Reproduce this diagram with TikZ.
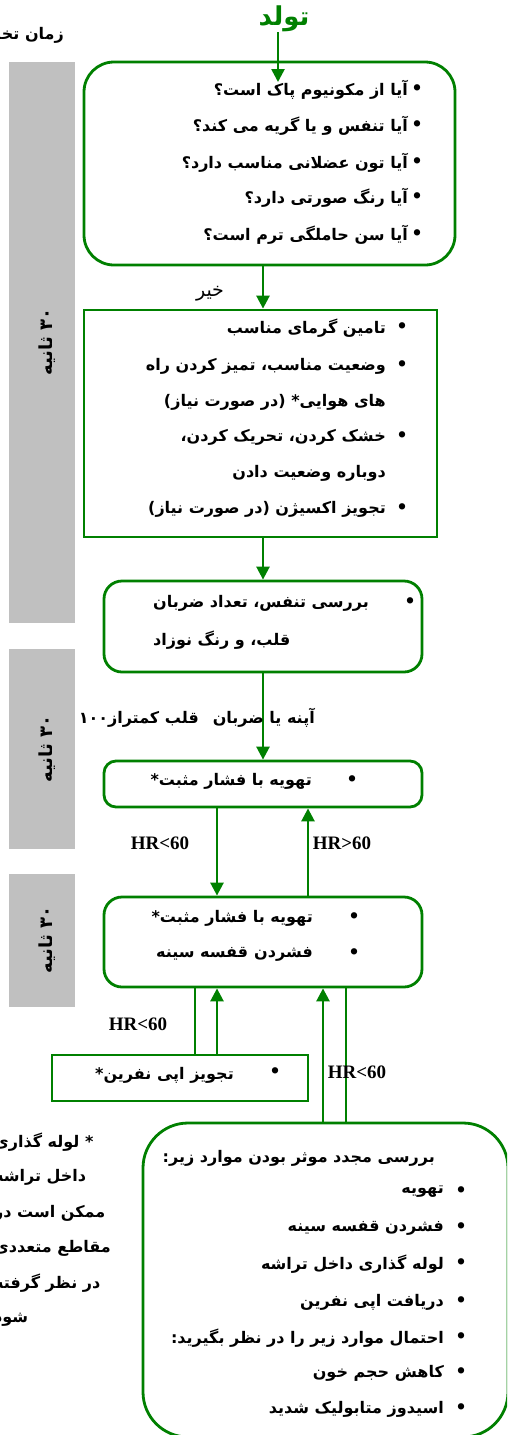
\documentclass[tikz,border=0pt]{standalone}
\usepackage{fontspec}
\usetikzlibrary{arrows.meta}
\TeXXeTstate=1
\setmainfont{Liberation Serif}
\newfontfamily\fa[Script=Arabic]{DejaVu Sans}
\definecolor{gr}{RGB}{0,128,0}
\definecolor{barc}{RGB}{192,192,192}
\newcommand\rl[1]{\beginR #1\endR}
\tikzset{
  boxs/.style={draw=gr, line width=2.8pt},
  arr/.style={draw=gr, line width=2.6pt, -{Triangle[width=13pt,length=13pt]}},
  ln/.style={draw=gr, line width=2.6pt},
  ft/.style={font=\fa\bfseries\fontsize{16}{18}\selectfont, inner sep=0pt},
  ftr/.style={font=\fa\fontsize{19}{21}\selectfont, inner sep=0pt},
  bul/.style={font=\fa\bfseries\fontsize{18}{18}\selectfont, inner sep=0pt},
  hr/.style={font=\bfseries\fontsize{19}{21}\selectfont, inner sep=0pt},
  barlbl/.style={font=\fa\bfseries\fontsize{18}{20}\selectfont, inner sep=0pt, rotate=90},
}
\begin{document}
\begin{tikzpicture}[x=1pt,y=-1pt]
\useasboundingbox (0,0) rectangle (507,1435);
\clip (0,0) rectangle (507,1435);
\fill[white] (0,0) rectangle (507,1435);

% column coordinates
\coordinate (c0) at (278,0);
\coordinate (c1) at (263,0);
\coordinate (cdn) at (217,0);
\coordinate (cup) at (308,0);
\coordinate (cl6) at (195,0);
\coordinate (ca6) at (217,0);
\coordinate (ca7) at (323,0);
\coordinate (cl7) at (346,0);

% gray bars
\fill[barc] (9,62) rectangle (75,623);
\fill[barc] (9,649) rectangle (75,849);
\fill[barc] (9,874) rectangle (75,1007);
\node[barlbl] (g1) at (47,342) {\rl{۳۰ ثانیه}};
\node[barlbl] (g2) at (47,749) {\rl{۳۰ ثانیه}};
\node[barlbl] (g3) at (47,940) {\rl{۳۰ ثانیه}};

% top texts
\node[font=\fa\bfseries\fontsize{26}{28}\selectfont, text=gr, inner sep=0pt] (title) at (284,19) {\rl{تولد}};
\node[ft, anchor=east] (tz) at (64,35) {\rl{زمان تخمینی}};

% box 1
\node[boxs, rounded corners=30pt, minimum width=371pt, minimum height=203pt, inner sep=0pt] (b1) at (269.5,163.5) {};
\coordinate (t1) at (278,82);
\draw[arr] (title.south -| c0) -- (t1);
\foreach \y/\t [count=\i] in {90/آیا از مکونیوم پاک است؟,126/آیا تنفس و یا گریه می کند؟,163/آیا تون عضلانی مناسب دارد؟,198/آیا رنگ صورتی دارد؟,235/آیا سن حاملگی ترم است؟}{
  \node[bul] (p1\i) at (417,\y) {•};
  \node[ft, anchor=east] (q1\i) at (408,\y) {\rl{\t}};
}

% box 2
\node[boxs, minimum width=353pt, minimum height=227pt, inner sep=0pt] (b2) at (260.5,423.5) {};
\draw[arr] (b1.south -| c1) -- (b2.north -| c1);
\node[ftr] (no) at (210,294) {\rl{خیر}};
\foreach \y/\t [count=\i] in {328/تامین گرمای مناسب,366/وضعیت مناسب، تمیز کردن راه,402/های هوایی* (در صورت نیاز),437/خشک کردن، تحریک کردن،,473/دوباره وضعیت دادن,509/تجویز اکسیژن (در صورت نیاز)}{
  \node[ft, anchor=east] (q2\i) at (386,\y) {\rl{\t}};
}
\node[bul] (p21) at (402,328) {•};
\node[bul] (p22) at (402,366) {•};
\node[bul] (p23) at (402,437) {•};
\node[bul] (p24) at (402,509) {•};

% box 3
\node[boxs, rounded corners=18pt, minimum width=318pt, minimum height=91pt, inner sep=0pt] (b3) at (263,626.5) {};
\draw[arr] (b2.south -| c1) -- (b3.north -| c1);
\node[bul] (p31) at (410,603) {•};
\node[ft, anchor=east] (q31) at (369,603) {\rl{بررسی تنفس، تعداد ضربان}};
\path (q31.west) ++(0,37) node[ft, anchor=west] (q32) {\rl{قلب، و رنگ نوزاد}};

% box 4
\node[boxs, rounded corners=12pt, minimum width=318pt, minimum height=46pt, inner sep=0pt] (b4) at (263,784) {};
\draw[arr] (b3.south -| c1) -- (b4.north -| c1);
\node[ft, anchor=east] (lab34) at (315,718) {\rl{آپنه یا ضربان\hspace{14pt}قلب کمتراز۱۰۰}};
\node[bul] (p41) at (352,781) {•};
\node[ft, anchor=east] (q41) at (312,781) {\rl{تهویه با فشار مثبت*}};

% box 5
\node[boxs, rounded corners=18pt, minimum width=318pt, minimum height=90pt, inner sep=0pt] (b5) at (263,942) {};
\draw[arr] (b4.south -| cdn) -- (b5.north -| cdn);
\draw[arr] (b5.north -| cup) -- (b4.south -| cup);
\node[hr] (hr1) at (160,843) {HR<60};
\node[hr] (hr2) at (342,843) {HR>60};
\node[bul] (p51) at (354,918) {•};
\node[bul] (p52) at (354,954) {•};
\node[ft, anchor=east] (q51) at (313,918) {\rl{تهویه با فشار مثبت*}};
\node[ft, anchor=east] (q52) at (313,954) {\rl{فشردن\hspace{6pt}قفسه سینه}};

% box 6
\node[boxs, minimum width=256pt, minimum height=46pt, inner sep=0pt] (b6) at (180,1078) {};
\draw[ln] (b5.south -| cl6) -- (b6.north -| cl6);
\draw[arr] (b6.north -| ca6) -- (b5.south -| ca6);
\node[hr] (hr3) at (138,1024) {HR<60};
\node[bul] (p61) at (275,1073) {•};
\node[ft, anchor=east] (q61) at (234,1075) {\rl{تجویز اپی نفرین*}};

% box 7
\node[boxs, rounded corners=45pt, minimum width=365pt, minimum height=314pt, inner sep=0pt] (b7) at (325.5,1280) {};
\draw[arr] (b7.north -| ca7) -- (b5.south -| ca7);
\draw[ln] (b5.south -| cl7) -- (b7.north -| cl7);
\node[hr] (hr4) at (357,1072) {HR<60};
\node[ft, anchor=east] (q70) at (435,1158) {\rl{بررسی مجدد موثر بودن موارد زیر:}};
\foreach \y/\t [count=\i] in {1192/تهویه,1228/فشردن قفسه سینه,1264/لوله گذاری داخل تراشه,1302/دریافت اپی نفرین,1338/احتمال موارد زیر را در نظر بگیرید:,1373/کاهش حجم خون,1409/اسیدوز متابولیک شدید}{
  \node[bul] (p7\i) at (461,\y) {•};
  \node[ft, anchor=east] (q7\i) at (444,\y) {\rl{\t}};
}

% footnote
\foreach \y/\t [count=\i] in {1142/* لوله گذاری,1177/داخل تراشه,1213/ممکن است در,1248/مقاطع متعددی,1283/در نظر گرفته,1320/شود}{
  \node[ft, anchor=west] (f\i) at (-6,\y) {\rl{\t}};
}
\end{tikzpicture}
\end{document}
